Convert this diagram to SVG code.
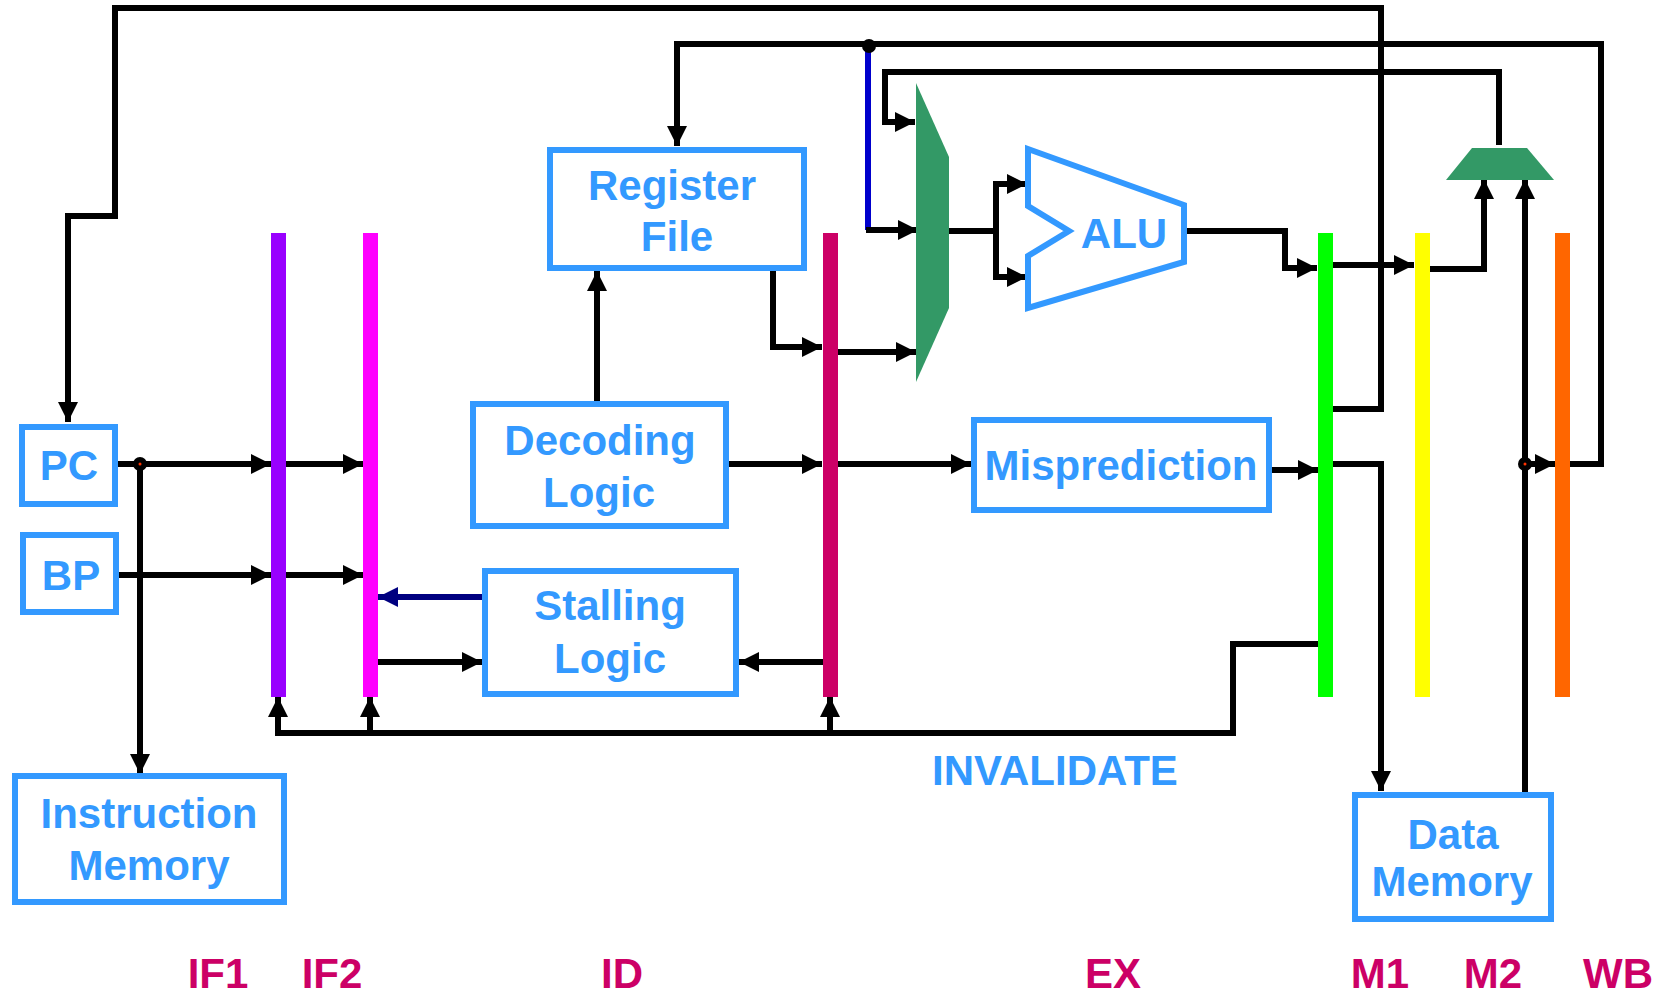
<svg xmlns="http://www.w3.org/2000/svg" width="1669" height="997" viewBox="0 0 1669 997">
<style>
.box{fill:#fff;stroke:#3399FF;stroke-width:6}
.lbl{font-family:"Liberation Sans",Arial,sans-serif;font-weight:bold;font-size:42px;fill:#3399FF;text-anchor:middle}
.stage{font-family:"Liberation Sans",Arial,sans-serif;font-weight:bold;font-size:42px;fill:#CC0066;text-anchor:middle}
.w{fill:none;stroke:#000;stroke-width:6;stroke-linejoin:miter}
.a{marker-end:url(#ah)}
.mux{fill:#339966}
</style>
<defs>
<marker id="ah" markerUnits="userSpaceOnUse" markerWidth="20" markerHeight="20" refX="20" refY="10" orient="auto">
<path d="M0,0 L20,10 L0,20 z" fill="#000"/>
</marker>
<marker id="ahn" markerUnits="userSpaceOnUse" markerWidth="20" markerHeight="20" refX="20" refY="10" orient="auto">
<path d="M0,0 L20,10 L0,20 z" fill="#000080"/>
</marker>
</defs>
<rect width="1669" height="997" fill="#fff"/>

<g id="pipeline-registers">
<rect id="if1-reg" x="271" y="233" width="15" height="464" fill="#9900FF"/>
<rect id="if2-reg" x="363" y="233" width="15" height="464" fill="#FF00FF"/>
<rect id="id-reg" x="823" y="233" width="15" height="464" fill="#CC0066"/>
<rect id="ex-reg" x="1318" y="233" width="15" height="464" fill="#00FF00"/>
<rect id="m1-reg" x="1415" y="233" width="15" height="464" fill="#FFFF00"/>
<rect id="m2-reg" x="1555" y="233" width="15" height="464" fill="#FF6600"/>
</g>

<g id="connectors">
<path class="w a" d="M1333,409 H1381 V8 H115 V216 H68 V422"/>
<path class="w a" d="M1570,464 H1601 V44 H677 V146"/>
<path class="w a" d="M1499,145 V72 H885 V122 H915"/>
<path fill="none" stroke="#0000CC" stroke-width="6" d="M868,46 V230"/>
<path class="w a" d="M866,230 H918"/>
<path class="w" d="M949,231 H996"/>
<path class="w a" d="M996,181 V184 H1027"/>
<path class="w a" d="M996,181 V277 H1027"/>
<path class="w a" d="M1185,231 H1285 V268 H1317"/>
<path class="w a" d="M1333,265 H1414"/>
<path class="w a" d="M1430,269 H1484 V179"/>
<path class="w a" d="M1525,792 V179"/>
<path class="w a" d="M1525,464 H1555"/>
<path class="w a" d="M1333,464 H1381 V791"/>
<path class="w a" d="M1272,470 H1318"/>
<path class="w a" d="M838,464 H971"/>
<path class="w a" d="M838,352 H916"/>
<path class="w a" d="M773,271 V347 H822"/>
<path class="w a" d="M597,401 V271"/>
<path class="w a" d="M728,464 H822"/>
<path class="w a" d="M118,464 H271"/>
<path class="w a" d="M286,464 H363"/>
<path class="w a" d="M119,575 H271"/>
<path class="w a" d="M286,575 H363"/>
<path class="w a" d="M140,464 V774"/>
<path fill="none" stroke="#000080" stroke-width="6" marker-end="url(#ahn)" d="M482,597 H378"/>
<path class="w a" d="M378,662 H482"/>
<path class="w a" d="M823,662 H739"/>
<path class="w" d="M1318,644 H1233 V733 H278"/>
<path class="w a" d="M278,736 V697"/>
<path class="w a" d="M370,736 V697"/>
<path class="w a" d="M830,736 V697"/>
<circle cx="140" cy="464" r="7" fill="#000"/>
<circle cx="140" cy="464" r="1.5" fill="#FF3300"/>
<circle cx="869" cy="46" r="7" fill="#000"/>
<circle cx="1525" cy="464" r="7" fill="#000"/>
<circle cx="1525" cy="464" r="1.5" fill="#FF3300"/>
</g>

<g id="pc"><rect class="box" x="22" y="427" width="93" height="77"/><text class="lbl" x="69" y="480">PC</text></g>
<g id="bp"><rect class="box" x="23" y="535" width="93" height="77"/><text class="lbl" x="71" y="590">BP</text></g>
<g id="instruction-memory"><rect class="box" x="15" y="776" width="269" height="126"/><text class="lbl" x="149" y="828">Instruction</text><text class="lbl" x="149" y="880">Memory</text></g>
<g id="register-file"><rect class="box" x="550" y="150" width="254" height="118"/><text class="lbl" x="672" y="200">Register</text><text class="lbl" x="677" y="251">File</text></g>
<g id="decoding-logic"><rect class="box" x="473" y="404" width="253" height="122"/><text class="lbl" x="600" y="455">Decoding</text><text class="lbl" x="599" y="507">Logic</text></g>
<g id="stalling-logic"><rect class="box" x="485" y="571" width="251" height="123"/><text class="lbl" x="610" y="620">Stalling</text><text class="lbl" x="610" y="673">Logic</text></g>
<g id="misprediction"><rect class="box" x="974" y="420" width="295" height="90"/><text class="lbl" x="1121" y="480">Misprediction</text></g>
<g id="data-memory"><rect class="box" x="1355" y="795" width="196" height="124"/><text class="lbl" x="1453" y="849">Data</text><text class="lbl" x="1452" y="896">Memory</text></g>
<g id="mux1"><polygon class="mux" points="916,83 949,157 949,308 916,382"/></g>
<g id="mux2"><polygon class="mux" points="1472,148 1527,148 1554,180 1446,180"/></g>
<g id="alu"><polygon fill="#fff" stroke="#3399FF" stroke-width="6" points="1028,149 1184,205 1184,262 1028,308 1028,256 1069,231 1028,206"/><text class="lbl" x="1124" y="248">ALU</text></g>
<g id="invalidate"><text class="lbl" x="1055" y="785">INVALIDATE</text></g>

<g id="stages">
<text class="stage" x="218" y="988">IF1</text>
<text class="stage" x="332" y="988">IF2</text>
<text class="stage" x="622" y="988">ID</text>
<text class="stage" x="1113" y="988">EX</text>
<text class="stage" x="1380" y="988">M1</text>
<text class="stage" x="1493" y="988">M2</text>
<text class="stage" x="1618" y="988">WB</text>
</g>
</svg>
